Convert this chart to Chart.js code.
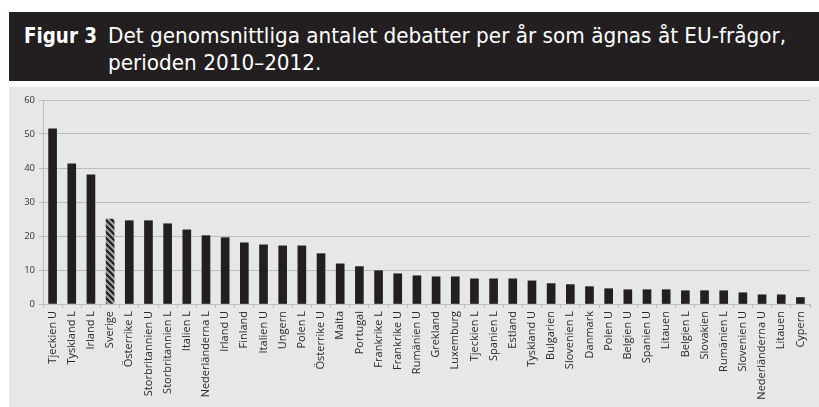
<!DOCTYPE html>
<html lang="sv">
<head>
<meta charset="utf-8">
<title>Figur 3</title>
<script src="https://cdn.jsdelivr.net/npm/chart.js@4.4.1/dist/chart.umd.min.js"></script>
<style>
  html, body { margin: 0; padding: 0; background: #fff; }
  body { width: 819px; height: 407px; position: relative; overflow: hidden; }
  .header {
    position: absolute; left: 9px; top: 12px; width: 810px; height: 69px;
    background: #231f20; color: #fff;
    font-family: "DejaVu Sans Condensed", "DejaVu Sans", sans-serif;
    font-size: 22px; line-height: 22px;
  }
  .header span { position: absolute; white-space: nowrap; transform-origin: 0 0; }
  .fig { left: 15px; top: 13px; font-weight: bold; }
  .line1 { left: 99px; top: 13px; }
  .line2 { left: 99px; top: 40px; }
  .panel { position: absolute; left: 9px; top: 87px; width: 810px; height: 320px; background: #e6e7e8; }
  #chart { position: absolute; left: 0; top: 0; }
</style>
</head>
<body>
<div class="header">
  <span class="fig">Figur 3</span>
  <span class="line1">Det genomsnittliga antalet debatter per år som ägnas åt EU-frågor,</span>
  <span class="line2">perioden 2010–2012.</span>
</div>
<div class="panel">
  <canvas id="chart" width="810" height="320"></canvas>
</div>
<script>
// Countries/chambers, sorted by average number of EU debates per year
const labels = [
  'Tjeckien U', 'Tyskland L', 'Irland L', 'Sverige', 'Österrike L',
  'Storbritannien U', 'Storbritannien L', 'Italien L', 'Nederländerna L', 'Irland U',
  'Finland', 'Italien U', 'Ungern', 'Polen L', 'Österrike U',
  'Malta', 'Portugal', 'Frankrike L', 'Frankrike U', 'Rumänien U',
  'Grekland', 'Luxemburg', 'Tjeckien L', 'Spanien L', 'Estland',
  'Tyskland U', 'Bulgarien', 'Slovenien L', 'Danmark', 'Polen U',
  'Belgien U', 'Spanien U', 'Litauen', 'Belgien L', 'Slovakien',
  'Rumänien L', 'Slovenien U', 'Nederländerna U', 'Litauen', 'Cypern'
];
const debates = [
  51.5, 41.2, 38.0, 25.0, 24.5,
  24.5, 23.6, 21.8, 20.1, 19.5,
  18.0, 17.4, 17.1, 17.1, 14.8,
  11.8, 11.0, 9.8, 8.9, 8.3,
  8.0, 8.0, 7.4, 7.4, 7.4,
  6.8, 6.0, 5.7, 5.1, 4.5,
  4.2, 4.2, 4.2, 3.9, 3.9,
  3.9, 3.3, 2.7, 2.7, 1.9
];
const yTicks = [0, 10, 20, 30, 40, 50, 60];
const highlighted = 'Sverige';

// Stretch the title lines to their set widths
function fitWidth(el, target) {
  const w = el.getBoundingClientRect().width;
  el.style.transform = 'scaleX(' + (target / w) + ')';
  return target / w;
}
const sx = fitWidth(document.querySelector('.line1'), 678);
document.querySelector('.line2').style.transform = 'scaleX(' + sx + ')';
fitWidth(document.querySelector('.fig'), 73);

// Diagonal hatch used for the Swedish bar
function hatchPattern(ctx) {
  const c = document.createElement('canvas');
  c.width = 6; c.height = 6;
  const g = c.getContext('2d');
  g.fillStyle = '#a4a4a4';
  g.fillRect(0, 0, 6, 6);
  g.strokeStyle = '#231f20';
  g.lineWidth = 2.2;
  g.beginPath();
  g.moveTo(-3, -3); g.lineTo(9, 9);
  g.moveTo(-3, 3); g.lineTo(3, 9);
  g.moveTo(3, -3); g.lineTo(9, 3);
  g.stroke();
  return ctx.createPattern(c, 'repeat');
}

const ctx = document.getElementById('chart').getContext('2d');
const hatch = hatchPattern(ctx);

new Chart(ctx, {
  type: 'bar',
  data: {
    labels: labels,
    datasets: [{
      data: debates,
      backgroundColor: labels.map(l => l === highlighted ? hatch : '#231f20'),
      barThickness: 8,
      borderWidth: 0
    }]
  },
  options: {
    responsive: false,
    animation: false,
    layout: { padding: { top: 13, right: 9, left: 0, bottom: 0 } },
    plugins: {
      legend: { display: false },
      tooltip: { enabled: false }
    },
    scales: {
      x: {
        grid: {
          display: true,
          drawOnChartArea: false,
          drawTicks: true,
          tickLength: 4,
          color: '#b9b9b9',
          offset: true
        },
        border: { display: false },
        ticks: {
          autoSkip: false,
          minRotation: 90,
          maxRotation: 90,
          padding: 3,
          color: '#2b2b2b',
          font: { family: 'Open Sans', size: 11 }
        },
        afterFit: function(scale) { scale.height = 103; }
      },
      y: {
        min: 0,
        max: 60,
        afterBuildTicks: function(scale) {
          scale.ticks = yTicks.map(v => ({ value: v }));
        },
        grid: {
          color: '#bdbdbd',
          lineWidth: 1,
          tickLength: 4
        },
        border: { display: true, color: '#bdbdbd' },
        ticks: {
          padding: 4,
          color: '#333',
          font: { family: 'Open Sans', size: 9.5 }
        },
        afterFit: function(scale) { scale.width = 34; }
      }
    }
  }
});
</script>
</body>
</html>
